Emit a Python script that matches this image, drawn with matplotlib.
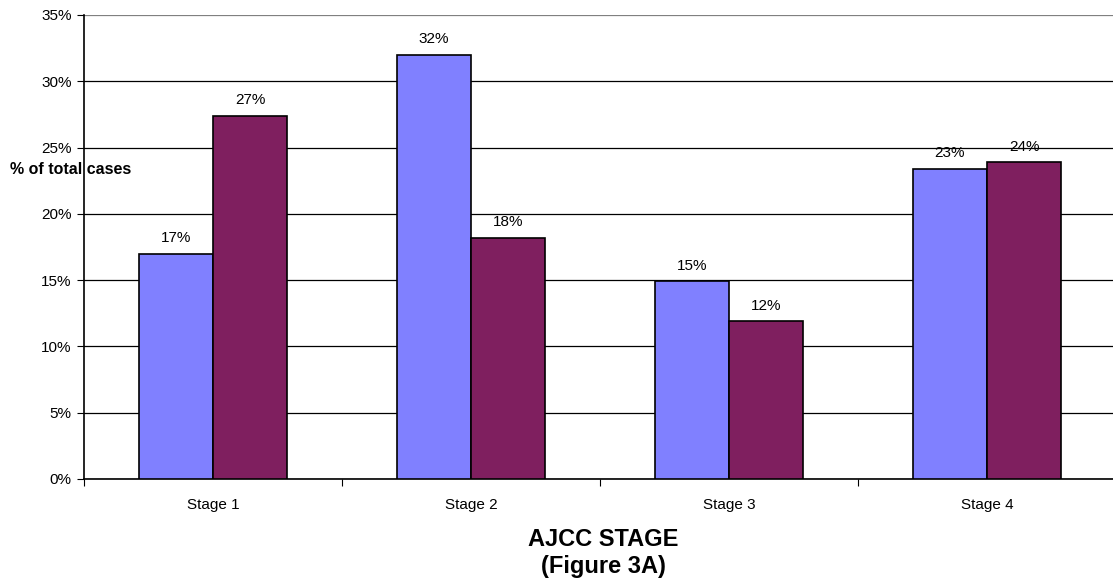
import matplotlib.pyplot as plt
import numpy as np

plt.rcParams['font.family'] = ['Liberation Sans', 'DejaVu Sans']

stages = ['Stage 1', 'Stage 2', 'Stage 3', 'Stage 4']
series_a = [17.0, 32.0, 14.9, 23.4]
series_b = [27.4, 18.2, 11.9, 23.9]
labels_a = ['17%', '32%', '15%', '23%']
labels_b = ['27%', '18%', '12%', '24%']

fig = plt.figure(figsize=(11.13, 5.87), dpi=100)
ax = fig.add_axes([84 / 1113, 1 - 479 / 587, 1032 / 1113, 464 / 587])

x = np.arange(len(stages))
w = 0.287
bars_a = ax.bar(x - w / 2, series_a, w, color='#8080FF', edgecolor='black', linewidth=1.2, zorder=3)
bars_b = ax.bar(x + w / 2, series_b, w, color='#7F1F5F', edgecolor='black', linewidth=1.2, zorder=3)

for bars, labs in [(bars_a, labels_a), (bars_b, labels_b)]:
    for b, lab in zip(bars, labs):
        ax.annotate(lab, (b.get_x() + b.get_width() / 2, b.get_height()),
                    xytext=(0, 6), textcoords='offset points',
                    ha='center', va='bottom', fontsize=11)

ax.set_xlim(-0.5, 3.5)
ax.set_ylim(0, 35)
ax.set_yticks(range(0, 36, 5))
ax.set_yticklabels([f'{v}%' for v in range(0, 36, 5)], fontsize=11)
ax.yaxis.grid(True, color='black', linewidth=0.9, zorder=0)
ax.get_ygridlines()[-1].set_color('#808080')

ax.set_xticks([-0.5, 0.5, 1.5, 2.5])
ax.set_xticklabels([])
ax.set_xticks(x, minor=True)
ax.set_xticklabels(stages, minor=True, fontsize=11)
ax.tick_params(axis='x', which='minor', length=0, pad=14)
ax.tick_params(axis='x', which='major', length=5, direction='out')
ax.tick_params(axis='y', length=5, direction='out', pad=4)

for s in ['top', 'right']:
    ax.spines[s].set_visible(False)
ax.spines['left'].set_linewidth(1.2)
ax.spines['bottom'].set_linewidth(1.2)

fig.text(10 / 1113, 1 - 170 / 587, '% of total cases', fontsize=11.5, fontweight='bold',
         ha='left', va='center')
fig.text(603 / 1113, 1 - 540 / 587, 'AJCC STAGE', fontsize=17, fontweight='bold',
         ha='center', va='center')
fig.text(603 / 1113, 1 - 566 / 587, '(Figure 3A)', fontsize=17, fontweight='bold',
         ha='center', va='center')

fig.savefig('out.png', dpi=100)
